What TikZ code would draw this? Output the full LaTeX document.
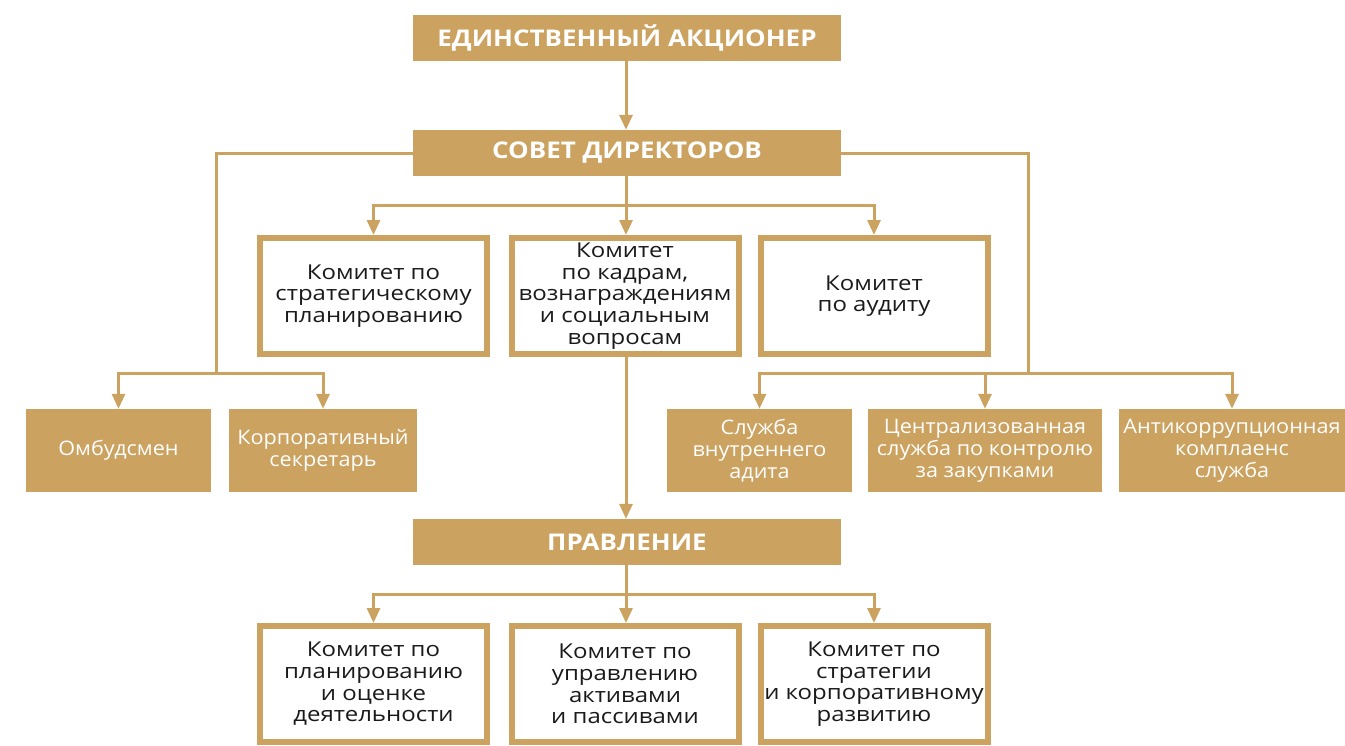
\documentclass[tikz,border=0pt]{standalone}
\usepackage{fontspec}
\setmainfont{Open Sans}
\newfontfamily\headfont{Open Sans}[FakeStretch=1.13]
\newfontfamily\whitefont{Open Sans}[FakeStretch=1.08]
\newfontfamily\inkfont{Open Sans}[FakeStretch=1.17]
\usetikzlibrary{arrows.meta}
\definecolor{gold}{HTML}{CBA25F}
\definecolor{ink}{HTML}{1A1A1A}
\begin{document}
\begin{tikzpicture}[x=1pt,y=-1pt,
  head/.style={fill=gold,draw=none,text=white,font=\headfont\fontsize{23}{27}\selectfont\bfseries,
    minimum width=428pt,minimum height=46pt,inner sep=0pt},
  fbox/.style={fill=gold,draw=none,text=white,font=\whitefont\fontsize{20}{22}\selectfont,
    align=center,minimum height=83pt,inner sep=0pt},
  cbox/.style={draw=gold,line width=6pt,fill=white,text=ink,font=\inkfont\fontsize{20.5}{21.7}\selectfont,
    align=center,minimum width=227pt,minimum height=116pt,inner sep=0pt},
  line/.style={draw=gold,line width=3pt},
  conn/.style={line,-{Triangle[width=13pt,length=15pt]}}]
\useasboundingbox (0,0) rectangle (1345,745);
% headers
\node[head] (sh) at (627,38) {ЕДИНСТВЕННЫЙ АКЦИОНЕР};
\node[head] (sd) at (627,153) {СОВЕТ ДИРЕКТОРОВ};
\node[head] (pr) at (627,542) {ПРАВЛЕНИЕ};
% board committees
\node[cbox] (k1) at (373.5,296) {Комитет по\\стратегическому\\планированию};
\node[cbox] (k2) at (625,296) {Комитет\\по кадрам,\\вознаграждениям\\и социальным\\вопросам};
\node[cbox] (k3) at (874,296) {Комитет\\по аудиту};
% side units
\node[fbox,minimum width=185pt] (omb) at (118.5,450.5) {Омбудсмен};
\node[fbox,minimum width=188pt] (sec) at (323,450.5) {Корпоративный\\секретарь};
\node[fbox,minimum width=185pt] (sia) at (759.5,450.5) {Служба\\внутреннего\\адита};
\node[fbox,minimum width=234pt] (csk) at (985,450.5) {Централизованная\\служба по контролю\\за закупками};
\node[fbox,minimum width=226pt] (acs) at (1232,450.5) {Антикоррупционная\\комплаенс\\служба};
% management committees
\node[cbox] (m1) at (373.5,684) {Комитет по\\планированию\\и оценке\\деятельности};
\node[cbox] (m2) at (625,684) {Комитет по\\управлению\\активами\\и пассивами};
\node[cbox] (m3) at (874,684) {Комитет по\\стратегии\\и корпоративному\\развитию};
% junctions
\coordinate (j1) at (626,205);
\coordinate (jl) at (216,373);
\coordinate (jr) at (1028,373);
\coordinate (j2) at (626,594);
% connectors
\draw[conn] (sh.south -| j1) -- (sd.north -| j1);
\draw[line] (sd.south -| j1) -- (j1);
\draw[conn] (j1) -- (k2.north -| j1);
\draw[conn] (j1) -| (k1.north);
\draw[conn] (j1) -| (k3.north);
\draw[line] (sd.west) -| (jl);
\draw[conn] (jl) -| (omb.north);
\draw[conn] (jl) -| (sec.north);
\draw[line] (sd.east) -| (jr);
\draw[conn] (jr) -| (sia.north);
\draw[conn] (jr) -| (csk.north);
\draw[conn] (jr) -| (acs.north);
\draw[conn] (k2.south -| j1) -- (pr.north -| j1);
\draw[line] (pr.south -| j2) -- (j2);
\draw[conn] (j2) -- (m2.north -| j2);
\draw[conn] (j2) -| (m1.north);
\draw[conn] (j2) -| (m3.north);
\end{tikzpicture}
\end{document}
